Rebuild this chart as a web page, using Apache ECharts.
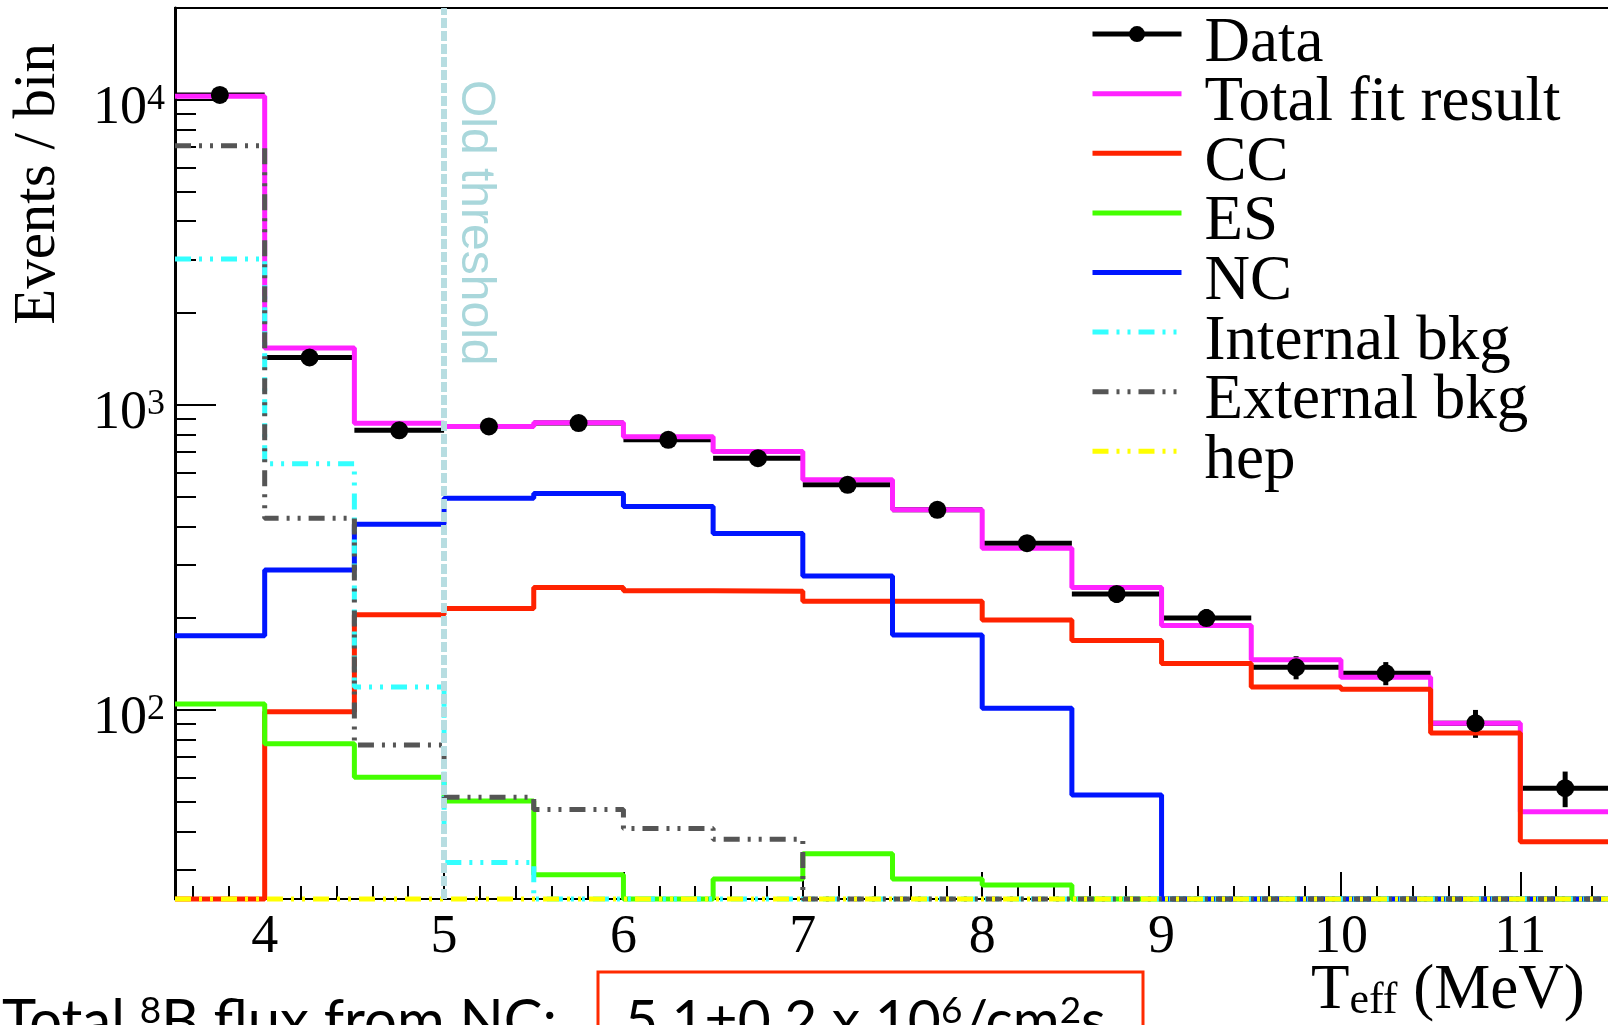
<!DOCTYPE html>
<html>
<head>
<meta charset="utf-8">
<script src="https://cdn.jsdelivr.net/npm/echarts@6/dist/echarts.min.js"></script>
<style>
  html, body { margin: 0; padding: 0; background: #fff; }
  #chart { width: 1608px; height: 1025px; }
</style>
</head>
<body>
<div id="chart"></div>
<script>
// Histogram bin edges in T_eff (MeV)
const binEdges = [3.5, 4, 4.5, 5, 5.5, 6, 6.5, 7, 7.5, 8, 8.5, 9, 9.5, 10, 10.5, 11, 11.5];

// Events per bin; null means the component is below the plotted range
const dataCounts  = [10380, 1430, 825, 850, 872, 768, 669, 547, 453, 352, 240, 200, 138, 132, 90.5, 55.4];
const dataErrors  = [102, 38, 29, 29, 30, 28, 26, 23, 21, 19, 15.5, 14, 12, 11.5, 9.5, 7.4];
const totalFit    = [10270, 1535, 871, 849, 873, 786, 703, 568, 453, 339, 252, 189, 146, 128, 90.5, 46.4];
const ccFit       = [null, 98.7, 205, 215, 252, 246, 245, 227, 227, 197, 169, 142, 119, 117, 84, 37];
const esFit       = [104.6, 77.4, 60.2, 50.3, 28.8, null, 27.9, 33.8, 27.9, 26.7, null, null, null, null, null, null];
const ncFit       = [175, 287.5, 406, 494, 512, 464, 379, 275, 176, 101.3, 52.6, null, null, null, null, null];
const internalBkg = [3010, 641, 119, 31.6, null, null, null, null, null, null, null, null, null, null, null, null];
const externalBkg = [7065, 425, 76.8, 51.7, 47.2, 40.9, 37.7, null, null, null, null, null, null, null, null, null];
const hepFit      = [null, null, null, null, null, null, null, null, null, null, null, null, null, null, null, null];

// Axis ranges and tick labels
const X_MIN = 3.5, X_MAX = 11.5;
const Y_MIN = 24, Y_MAX = 20000;
const xTickLabels = [4, 5, 6, 7, 8, 9, 10, 11];
const yTickLabels = [100, 1000, 10000];
const OLD_THRESHOLD = 5;

// minor tick positions: every 0.2 MeV on x, 2..9 within each decade on y
const xMinorTicks = [];
for (let k = 36; k <= 114; k += 2) { if (k % 10 !== 0) xMinorTicks.push(k / 10); }
const yMinorTicks = [];
[10, 100, 1000].forEach(d => { for (let m = 2; m <= 9; m++) { if (m * d > Y_MIN) yMinorTicks.push(m * d); } });

const SERIF = "'Liberation Serif', 'Times New Roman', serif";
const SANS = "'Liberation Sans', Arial, sans-serif";
const BODY = "Lato, 'Open Sans', sans-serif";
const DASH_DOT_DOT = [16, 8, 3, 8, 3, 8];

// Turn per-bin values into the points of a step outline
function stepPoints(vals) {
  const pts = vals.map((v, i) => [binEdges[i], v == null ? Y_MIN : v]);
  const last = vals[vals.length - 1];
  pts.push([binEdges[binEdges.length - 1], last == null ? Y_MIN : last]);
  return pts;
}

function stepSeries(name, vals, color, dash, z) {
  return {
    name: name, type: 'line', step: 'end', symbol: 'none', z: z, clip: false,
    xAxisIndex: 0, yAxisIndex: 0,
    data: stepPoints(vals),
    lineStyle: { color: color, width: 5, type: dash || 'solid', cap: 'butt' },
    itemStyle: { color: color },
    emphasis: { disabled: true }
  };
}

const chart = echarts.init(document.getElementById('chart'), null, { renderer: 'canvas' });

const option = {
  animation: false,
  backgroundColor: '#fff',
  grid: {
    left: 175, right: -2, top: 8, bottom: 126,
    show: true, borderColor: '#000', borderWidth: 2, backgroundColor: 'transparent',
    outerBoundsMode: 'none', containLabel: false
  },
  xAxis: [
    {
      type: 'value', min: X_MIN, max: X_MAX, position: 'bottom',
      axisLine: { show: true, onZero: false, lineStyle: { color: '#000', width: 2 } },
      axisTick: { show: true, inside: true, length: 27, customValues: xTickLabels, lineStyle: { color: '#000', width: 2 } },
      axisLabel: { show: true, customValues: xTickLabels, margin: 12, color: '#000', fontFamily: SERIF, fontSize: 54 },
      splitLine: { show: false }
    },
    {
      type: 'value', min: X_MIN, max: X_MAX, position: 'bottom',
      axisLine: { show: false, onZero: false },
      axisTick: { show: true, inside: true, length: 13, customValues: xMinorTicks, lineStyle: { color: '#000', width: 2 } },
      axisLabel: { show: false },
      splitLine: { show: false }
    }
  ],
  yAxis: [
    {
      type: 'log', logBase: 10, min: Y_MIN, max: Y_MAX, position: 'left',
      axisLine: { show: true, onZero: false, lineStyle: { color: '#000', width: 3 } },
      axisTick: { show: true, inside: true, length: 41, customValues: yTickLabels, lineStyle: { color: '#000', width: 2 } },
      axisLabel: {
        show: true, customValues: yTickLabels, margin: 10, padding: [17, 0, 0, 0],
        formatter: v => '{b|10}{s|' + Math.round(Math.log10(v)) + '}',
        rich: {
          b: { fontFamily: SERIF, fontSize: 54, lineHeight: 54, verticalAlign: 'bottom', color: '#000' },
          s: { fontFamily: SERIF, fontSize: 36, lineHeight: 36, verticalAlign: 'top', padding: [0, 0, 25, 0], color: '#000' }
        }
      },
      splitLine: { show: false }
    },
    {
      type: 'log', logBase: 10, min: Y_MIN, max: Y_MAX, position: 'left',
      axisLine: { show: false, onZero: false },
      axisTick: { show: true, inside: true, length: 21, customValues: yMinorTicks, lineStyle: { color: '#000', width: 2 } },
      axisLabel: { show: false },
      splitLine: { show: false }
    }
  ],
  legend: {
    orient: 'vertical', left: 1090, top: -7.4, padding: 0, itemGap: -23.4,
    itemWidth: 89, itemHeight: 20, selectedMode: false,
    // top padding on the name token lets each name sit slightly below its line sample
    formatter: name => '{t|' + name + '}',
    textStyle: {
      color: '#000', padding: [0, 0, 0, 18],
      rich: {
        t: { fontFamily: SERIF, fontSize: 63, lineHeight: 45, padding: [20, 0, 0, 0], color: '#000' }
      }
    },
    itemStyle: { opacity: 0 },
    lineStyle: { width: 5 },
    data: [
      { name: 'Data', itemStyle: { opacity: 1, color: '#000' }, lineStyle: { width: 5, color: '#000', opacity: 1, type: 'solid' } },
      'Total fit result', 'CC', 'ES', 'NC', 'Internal bkg', 'External bkg', 'hep'
    ]
  },
  series: [
    // data: bin-width bars with statistical error bars
    {
      name: 'Data bins', type: 'custom', z: 2, xAxisIndex: 0, yAxisIndex: 0,
      data: dataCounts.map((v, i) => [binEdges[i], binEdges[i + 1], v, dataErrors[i]]),
      encode: { x: [0, 1], y: 2 },
      renderItem: (params, api) => {
        const lo = api.value(0), hi = api.value(1), v = api.value(2), e = api.value(3);
        const mid = (lo + hi) / 2;
        const a = api.coord([lo, v]), b = api.coord([hi, v]);
        const t = api.coord([mid, v + e]), u = api.coord([mid, v - e]);
        return {
          type: 'group',
          children: [
            { type: 'line', shape: { x1: a[0], y1: a[1], x2: b[0], y2: b[1] }, style: { stroke: '#000', lineWidth: 5 } },
            { type: 'line', shape: { x1: t[0], y1: t[1], x2: u[0], y2: u[1] }, style: { stroke: '#000', lineWidth: 5 } }
          ]
        };
      }
    },
    stepSeries('Total fit result', totalFit, '#ff22ff', null, 3),
    stepSeries('CC', ccFit, '#ff2200', null, 4),
    stepSeries('ES', esFit, '#44ff00', null, 5),
    stepSeries('NC', ncFit, '#0015ff', null, 6),
    stepSeries('Internal bkg', internalBkg, '#33ffff', DASH_DOT_DOT, 7),
    stepSeries('External bkg', externalBkg, '#555555', DASH_DOT_DOT, 8),
    Object.assign(stepSeries('hep', hepFit, '#ffff00', DASH_DOT_DOT, 9), {
      markLine: {
        silent: true, symbol: 'none', z: 20,
        label: { show: false },
        lineStyle: { color: '#b7dde1', width: 6, type: [10, 3], opacity: 1 },
        data: [{ xAxis: OLD_THRESHOLD }]
      }
    }),
    // data points at bin centres
    {
      name: 'Data', type: 'line', z: 12, xAxisIndex: 0, yAxisIndex: 0,
      data: dataCounts.map((v, i) => [(binEdges[i] + binEdges[i + 1]) / 2, v]),
      symbol: 'circle', symbolSize: 18,
      itemStyle: { color: '#000' },
      lineStyle: { opacity: 0, width: 0 },
      emphasis: { disabled: true }
    }
  ]
};

chart.setOption(option);

// annotations
const thrX = chart.convertToPixel({ xAxisIndex: 0 }, OLD_THRESHOLD);
chart.setOption({
  graphic: [
    {
      type: 'text', x: thrX + 31, y: 80, rotation: -Math.PI / 2, z: 30,
      style: {
        text: 'Old threshold', fill: '#a9d7db', font: '48px ' + SANS,
        align: 'left', verticalAlign: 'middle', textAlign: 'left', textVerticalAlign: 'middle'
      }
    },
    {
      type: 'text', x: 38, y: 43, rotation: Math.PI / 2, z: 30,
      style: {
        text: 'Events / bin', fill: '#000', font: '59px ' + SERIF,
        align: 'right', verticalAlign: 'middle', textAlign: 'right', textVerticalAlign: 'middle'
      }
    },
    {
      type: 'text', x: 1311, y: 960, z: 30,
      style: {
        text: '{a|T}{s|eff}{a| (MeV)}',
        align: 'left', verticalAlign: 'top', textAlign: 'left', textVerticalAlign: 'top',
        rich: {
          a: { fontFamily: SERIF, fontSize: 63, lineHeight: 63, verticalAlign: 'top', fill: '#000', color: '#000' },
          s: { fontFamily: SERIF, fontSize: 44, lineHeight: 44, verticalAlign: 'bottom', padding: [40, 0, 0, 0], fill: '#000', color: '#000' }
        }
      }
    },
    {
      type: 'text', x: 2, y: 993, z: 30,
      style: {
        text: '{a|Total }{s|8}{a|B flux from NC:}',
        align: 'left', verticalAlign: 'top', textAlign: 'left', textVerticalAlign: 'top',
        rich: {
          a: { fontFamily: BODY, fontSize: 58, lineHeight: 58, verticalAlign: 'bottom', fill: '#000', color: '#000' },
          s: { fontFamily: BODY, fontSize: 37, lineHeight: 37, verticalAlign: 'top', padding: [0, 0, 33, 0], fill: '#000', color: '#000' }
        }
      }
    },
    {
      type: 'rect', z: 30,
      shape: { x: 598, y: 972, width: 545, height: 90 },
      style: { fill: 'none', stroke: '#ff2a00', lineWidth: 3 }
    },
    {
      type: 'text', x: 625, y: 993, z: 30,
      style: {
        text: '{a|5.1\u00b10.2 x 10}{s|6}{a|/cm}{s|2}{a|s}',
        align: 'left', verticalAlign: 'top', textAlign: 'left', textVerticalAlign: 'top',
        rich: {
          a: { fontFamily: BODY, fontSize: 57, lineHeight: 57, verticalAlign: 'bottom', fill: '#000', color: '#000' },
          s: { fontFamily: BODY, fontSize: 37, lineHeight: 37, verticalAlign: 'top', padding: [0, 0, 33, 0], fill: '#000', color: '#000' }
        }
      }
    }
  ]
});
</script>
</body>
</html>
